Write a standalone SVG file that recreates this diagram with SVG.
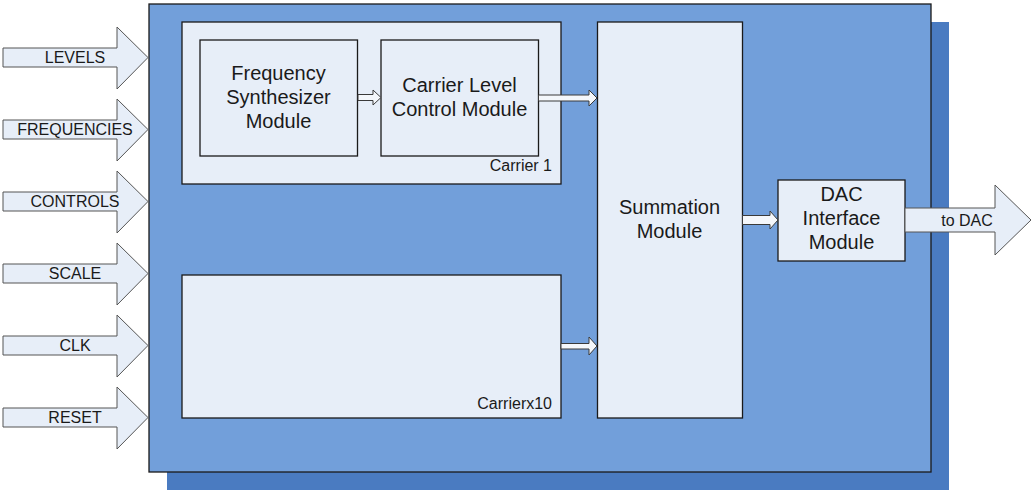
<svg xmlns="http://www.w3.org/2000/svg" width="1035" height="494" viewBox="0 0 1035 494">
<style>
.box{fill:#E7EEF8;stroke:#1A1A1A;stroke-width:1.3}
.in{fill:#E7EEF8;stroke:#555;stroke-width:1}
.small{fill:#F4F7FB;stroke:#3A3A3A;stroke-width:1}
text{font-family:"Liberation Sans",Arial,sans-serif;fill:#1A1A1A;text-anchor:middle}
.lbl{font-size:16px}
.mod{font-size:20px}
.cap{font-size:16px;text-anchor:end}
</style>
<rect x="167" y="22" width="782" height="468" fill="#4A7BC1"/>
<g id="main"><rect x="149" y="4" width="782" height="468" fill="#729FDA" stroke="#1A1A1A" stroke-width="1.3"/></g>
<g id="inputs">
<g id="levels"><path class="in" d="M3,48H117V27L148,57.5L117,89V67H3Z"/><text class="lbl" x="75" y="63">LEVELS</text></g>
<g id="frequencies"><path class="in" d="M3,120H117V99L148,129.5L117,161V139H3Z"/><text class="lbl" x="75" y="135">FREQUENCIES</text></g>
<g id="controls"><path class="in" d="M3,192H117V171L148,201.5L117,233V211H3Z"/><text class="lbl" x="75" y="207">CONTROLS</text></g>
<g id="scale"><path class="in" d="M3,264H117V243L148,273.5L117,305V283H3Z"/><text class="lbl" x="75" y="279">SCALE</text></g>
<g id="clk"><path class="in" d="M3,336H117V315L148,345.5L117,377V355H3Z"/><text class="lbl" x="75" y="351">CLK</text></g>
<g id="reset"><path class="in" d="M3,408H117V387L148,417.5L117,449V427H3Z"/><text class="lbl" x="75" y="423">RESET</text></g>
</g>
<g id="carrier1"><rect class="box" x="182" y="22" width="379" height="162"/><text class="cap" x="552" y="171">Carrier 1</text></g>
<g id="freqsynth"><rect class="box" x="200" y="40" width="157.5" height="116"/><text class="mod" x="278.5" y="80">Frequency</text><text class="mod" x="278.5" y="104">Synthesizer</text><text class="mod" x="278.5" y="128">Module</text></g>
<g id="carrierlevel"><rect class="box" x="381" y="40" width="157.5" height="116"/><text class="mod" x="459.5" y="92">Carrier Level</text><text class="mod" x="459.5" y="116">Control Module</text></g>
<g id="carrierx10"><rect class="box" x="182" y="275" width="379" height="143"/><text class="cap" x="552" y="409">Carrierx10</text></g>
<g id="summation"><rect class="box" x="597.5" y="22" width="145" height="396"/><text class="mod" x="669.5" y="214">Summation</text><text class="mod" x="669.5" y="238">Module</text></g>
<g id="dac"><rect class="box" x="778" y="180" width="127" height="81"/><text class="mod" x="841.5" y="201">DAC</text><text class="mod" x="841.5" y="225">Interface</text><text class="mod" x="841.5" y="249">Module</text></g>
<g id="connectors">
<path class="small" d="M358,94.5H373V90L381,97.5L373,105V100.5H358Z"/>
<path class="small" d="M538.5,95H589V90L597,98L589,106V101H538.5Z"/>
<path class="small" d="M561,343.5H589V337L597,346L589,355V349H561Z"/>
<path class="small" d="M742.5,215.5H770V211L778,220L770,229V224.5H742.5Z"/>
<g id="todac"><path class="in" d="M905,208H995V185L1031,220L995,255V232H905Z"/><text class="lbl" x="967" y="226">to DAC</text></g>
</g>
</svg>
